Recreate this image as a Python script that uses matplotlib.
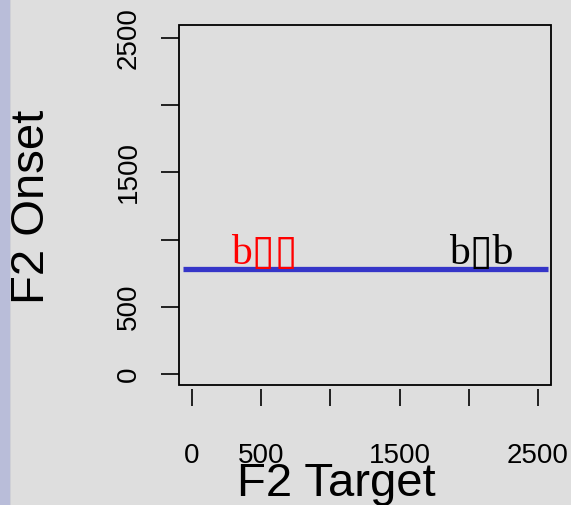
import matplotlib
matplotlib.use("Agg")
import matplotlib.pyplot as plt
from matplotlib.patches import Rectangle

# data
x_ticks = [0, 500, 1000, 1500, 2000, 2500]
x_tick_labels = ["0", "500", "", "1500", "", "2500"]
y_ticks = [0, 500, 1000, 1500, 2000, 2500]
y_tick_labels = ["0", "500", "", "1500", "", "2500"]

line_x = [-65, 2570]
line_y = [780, 780]

word_labels = ["b\u25af\u25af", "b\u25afb"]
word_x = [520, 2090]
word_y = [815, 815]
word_colors = ["#ff0000", "#000000"]

bg = "#dedede"
W, H = 571, 505

fig = plt.figure(figsize=(W / 100, H / 100), dpi=100, facecolor=bg)
fig.patches.append(Rectangle((0, 0), 10 / W, 1, transform=fig.transFigure,
                             facecolor="#b9bdd9", edgecolor="none", zorder=0))
fig.patches.append(Rectangle((10 / W, 0), 1 / W, 1, transform=fig.transFigure,
                             facecolor="#cfd0d6", edgecolor="none", zorder=0))

ax = fig.add_axes([179 / W, 1 - 385 / H, (551 - 179) / W, (385 - 25) / H])
ax.set_facecolor(bg)
ax.set_xlim(-94, 2594)
ax.set_ylim(-82, 2597)

ax.plot(line_x, line_y, color="#3535c8", linewidth=3.8, solid_capstyle="butt")

for lab, x, y, c in zip(word_labels, word_x, word_y, word_colors):
    ax.text(x, y, lab, color=c, fontsize=30, ha="center", va="baseline",
            family=["Liberation Serif", "DejaVu Sans"])

# box drawn separately so the bottom ticks can sit a little below it
for s in ax.spines.values():
    s.set_visible(False)
ax.spines["bottom"].set_position(("outward", 3))
ax.add_patch(Rectangle((0, 0), 1, 1, transform=ax.transAxes, fill=False,
                       edgecolor="black", linewidth=1.3, clip_on=False, zorder=5))

ax.set_xticks(x_ticks)
ax.set_xticklabels(x_tick_labels, family="Liberation Sans", fontsize=20)
ax.set_yticks(y_ticks)
ax.set_yticklabels(y_tick_labels, family="Liberation Sans", fontsize=20,
                   rotation=90, va="center")
ax.tick_params(axis="x", length=12, width=1.2, pad=27)
ax.tick_params(axis="y", length=13, width=1.2, pad=14)

fig.text(336 / W, 1 - 496 / H, "F2 Target", family="Liberation Sans", fontsize=34,
         ha="center", va="baseline")
fig.text(32 / W, 1 - 207 / H, "F2 Onset", family="Liberation Sans", fontsize=34,
         ha="center", va="center", rotation=90)

fig.savefig("out.png", dpi=100, facecolor=bg)
